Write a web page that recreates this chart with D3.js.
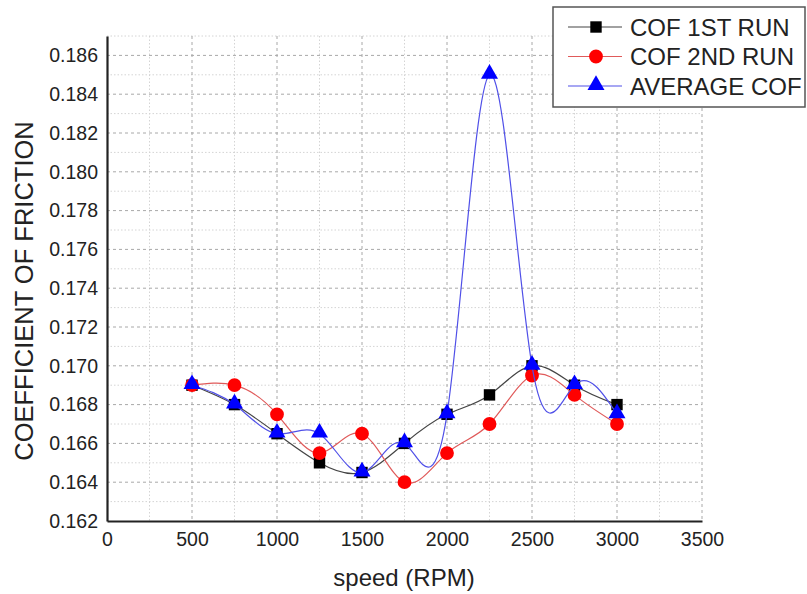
<!DOCTYPE html>
<html>
<head>
<meta charset="utf-8">
<script src="https://cdn.jsdelivr.net/npm/d3@7"></script>
<style>
  body { margin: 0; background: #fff; }
  text { font-family: Arial, "Liberation Sans", sans-serif; }
</style>
</head>
<body>
<script>
var speeds = [500, 750, 1000, 1250, 1500, 1750, 2000, 2250, 2500, 2750, 3000];
var run1 = [0.169, 0.168, 0.1665, 0.165, 0.1645, 0.166, 0.1675, 0.1685, 0.170, 0.169, 0.168];
var run2 = [0.169, 0.169, 0.1675, 0.1655, 0.1665, 0.164, 0.1655, 0.167, 0.1695, 0.1685, 0.167];
var avg = [0.169, 0.168, 0.1665, 0.1665, 0.1645, 0.166, 0.1675, 0.185, 0.170, 0.169, 0.1675];
var xTicks = [0, 500, 1000, 1500, 2000, 2500, 3000, 3500];
var yTicks = [0.162, 0.164, 0.166, 0.168, 0.170, 0.172, 0.174, 0.176, 0.178, 0.180, 0.182, 0.184, 0.186];
var seriesNames = ["COF 1ST RUN", "COF 2ND RUN", "AVERAGE COF"];

var width = 807, height = 594;
var plotLeft = 107, plotRight = 702, plotTop = 36, plotBottom = 521;

var svg = d3.select("body").append("svg")
  .attr("width", width)
  .attr("height", height);

var x = d3.scaleLinear().domain([0, 3500]).range([plotLeft, plotRight]);
var y = d3.scaleLinear().domain([0.162, 0.187]).range([plotBottom, plotTop]);

// minor grid
var minorX = d3.range(250, 3500, 500);
var minorY = d3.range(0.163, 0.1875, 0.002);
svg.append("g").selectAll("line").data(minorX).enter().append("line")
  .attr("x1", function(d) { return x(d); }).attr("x2", function(d) { return x(d); })
  .attr("y1", plotTop).attr("y2", plotBottom)
  .attr("stroke", "#d4d4d4").attr("stroke-dasharray", "1.5,2");
svg.append("g").selectAll("line").data(minorY).enter().append("line")
  .attr("x1", plotLeft).attr("x2", plotRight)
  .attr("y1", function(d) { return y(d); }).attr("y2", function(d) { return y(d); })
  .attr("stroke", "#d4d4d4").attr("stroke-dasharray", "1.5,2");

// major grid
svg.append("g").selectAll("line").data(xTicks.slice(1)).enter().append("line")
  .attr("x1", function(d) { return x(d); }).attr("x2", function(d) { return x(d); })
  .attr("y1", plotTop).attr("y2", plotBottom)
  .attr("stroke", "#a8a8a8").attr("stroke-dasharray", "3,3");
svg.append("g").selectAll("line").data(yTicks.slice(1)).enter().append("line")
  .attr("x1", plotLeft).attr("x2", plotRight)
  .attr("y1", function(d) { return y(d); }).attr("y2", function(d) { return y(d); })
  .attr("stroke", "#a8a8a8").attr("stroke-dasharray", "3,3");

// axes
var xAxis = d3.axisBottom(x).tickValues(xTicks).tickSize(0).tickPadding(11)
  .tickFormat(d3.format("d"));
var yAxis = d3.axisLeft(y).tickValues(yTicks).tickSize(0).tickPadding(9)
  .tickFormat(d3.format(".3f"));

var gx = svg.append("g").attr("transform", "translate(0," + plotBottom + ")").call(xAxis);
var gy = svg.append("g").attr("transform", "translate(" + plotLeft + ",0)").call(yAxis);
[gx, gy].forEach(function(g) {
  g.select(".domain").attr("stroke", "#222").attr("stroke-width", 2.2);
  g.selectAll("text").attr("font-size", 19.5).attr("fill", "#222");
});

svg.append("text")
  .attr("x", 404).attr("y", 586)
  .attr("text-anchor", "middle")
  .attr("font-size", 24).attr("fill", "#222")
  .text("speed (RPM)");
svg.append("text")
  .attr("transform", "translate(33,291) rotate(-90)")
  .attr("text-anchor", "middle")
  .attr("font-size", 25.5).attr("fill", "#222")
  .text("COEFFICIENT OF FRICTION");

var series = [
  { name: seriesNames[0], values: run1, line: "#444", fill: "#000", shape: d3.symbolSquare, size: 130 },
  { name: seriesNames[1], values: run2, line: "#e05a5a", fill: "#ff0000", shape: d3.symbolCircle, size: 150 },
  { name: seriesNames[2], values: avg, line: "#5050e8", fill: "#0000ff", shape: d3.symbolTriangle, size: 125 }
];

var line = d3.line()
  .x(function(d) { return x(d[0]); })
  .y(function(d) { return y(d[1]); })
  .curve(d3.curveNatural);

series.forEach(function(s) {
  var pts = speeds.map(function(v, i) { return [v, s.values[i]]; });
  svg.append("path")
    .datum(pts)
    .attr("fill", "none")
    .attr("stroke", s.line)
    .attr("stroke-width", 1.2)
    .attr("d", line);
  svg.append("g").selectAll("path").data(pts).enter().append("path")
    .attr("transform", function(d) {
      var dy = s.shape === d3.symbolTriangle ? -1 : 0;
      return "translate(" + x(d[0]) + "," + (y(d[1]) + dy) + ")";
    })
    .attr("d", d3.symbol().type(s.shape).size(s.size))
    .attr("fill", s.fill);
});

// legend
var legend = svg.append("g");
legend.append("rect")
  .attr("x", 553).attr("y", 7).attr("width", 252).attr("height", 100)
  .attr("fill", "#fff").attr("stroke", "#555").attr("stroke-width", 1.5);
series.forEach(function(s, i) {
  var ly = 27 + i * 29.5;
  legend.append("line")
    .attr("x1", 568).attr("x2", 622).attr("y1", ly).attr("y2", ly)
    .attr("stroke", s.line).attr("stroke-width", 1.2);
  legend.append("path")
    .attr("transform", "translate(596," + (ly + (s.shape === d3.symbolTriangle ? -1 : 0)) + ")")
    .attr("d", d3.symbol().type(s.shape).size(s.size))
    .attr("fill", s.fill);
  legend.append("text")
    .attr("x", 630).attr("y", ly + 8.5)
    .attr("font-size", 24).attr("fill", "#222")
    .text(s.name);
});
</script>
</body>
</html>
